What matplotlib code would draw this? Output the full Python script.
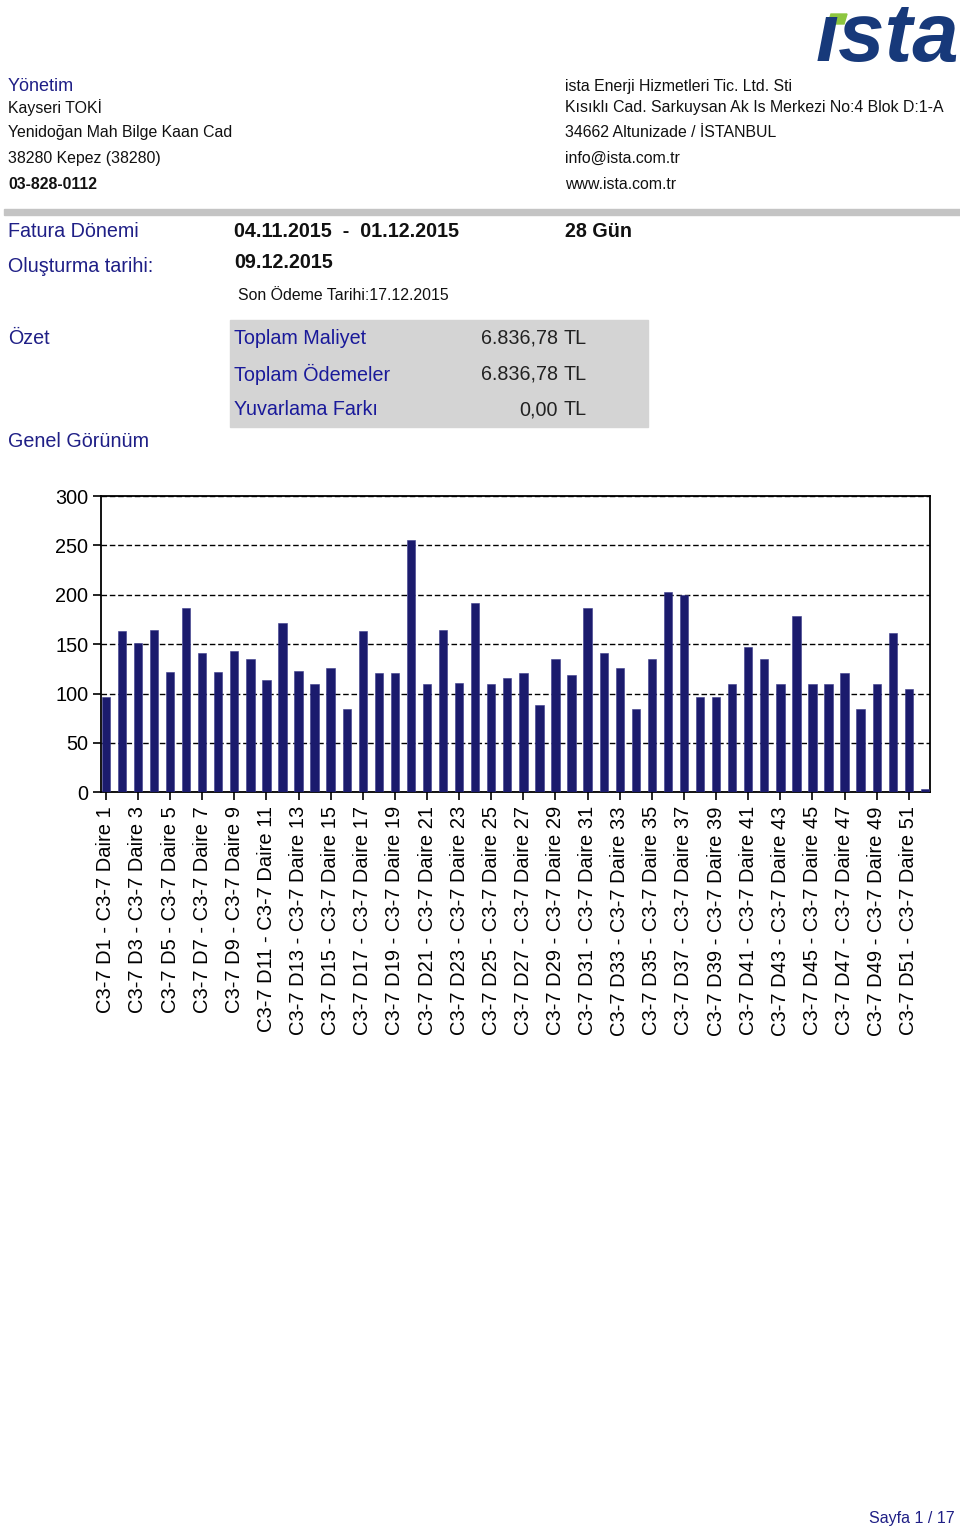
import matplotlib
matplotlib.use("Agg")
import matplotlib.pyplot as plt
from matplotlib.patches import Rectangle, Polygon

plt.rcParams['font.family'] = ['Liberation Sans', 'DejaVu Sans']

# ---- data ----
apartments = [f"C3-7 D{i} - C3-7 Daire {i}" for i in range(1, 53)]
values = [96, 163, 151, 164, 122, 187, 141, 122, 143, 135,
          114, 171, 123, 110, 126, 84, 163, 121, 121, 255,
          110, 164, 111, 192, 110, 116, 121, 88, 135, 119,
          187, 141, 126, 84, 135, 203, 200, 96, 96, 110,
          147, 135, 110, 178, 110, 110, 121, 84, 110, 161,
          105, 3]
y_ticks = [0, 50, 100, 150, 200, 250, 300]

W, H = 960, 1532
NAVY = '#1f1f86'
BAR = '#1b1b6d'

fig = plt.figure(figsize=(W / 100, H / 100), dpi=100)


def fx(x):
    return x / W


def fy(y):
    return 1 - y / H


def txt(x, y, s, size=11.4, color='#111111', ha='left', weight='normal', **kw):
    fig.text(fx(x), fy(y + 1.5), s, fontsize=size, color=color, ha=ha, va='center',
             fontweight=weight, **kw)


# ---- logo ----
fig.text(fx(816), fy(61), 'ısta', fontsize=60, fontweight='bold', fontstyle='italic',
         color='#17397a', ha='left', va='baseline')
fig.patches.append(Polygon([(fx(828), fy(24)), (fx(844), fy(24)), (fx(847), fy(14)), (fx(831), fy(14))],
                           closed=True, transform=fig.transFigure, color='#8dc63f'))

# ---- header ----
txt(8, 85, 'Yönetim', size=13, color=NAVY)
txt(8, 106, 'Kayseri TOKİ')
txt(8, 131, 'Yenidoğan Mah Bilge Kaan Cad')
txt(8, 157, '38280 Kepez (38280)')
txt(8, 183, '03-828-0112', weight='bold')
txt(565, 85, 'ista Enerji Hizmetleri Tic. Ltd. Sti')
txt(565, 106, 'Kısıklı Cad. Sarkuysan Ak Is Merkezi No:4 Blok D:1-A')
txt(565, 131, '34662 Altunizade / İSTANBUL')
txt(565, 157, 'info@ista.com.tr')
txt(565, 183, 'www.ista.com.tr')

fig.patches.append(Rectangle((fx(4), fy(215)), fx(956), 6 / H, transform=fig.transFigure,
                             color='#c4c4c4'))

txt(8, 230, 'Fatura Dönemi', size=14.2, color=NAVY)
txt(234, 230, '04.11.2015  -  01.12.2015', size=14.2, weight='bold')
txt(565, 230, '28 Gün', size=14.2, weight='bold')
txt(8, 265, 'Oluşturma tarihi:', size=14.2, color=NAVY)
txt(234, 261, '09.12.2015', size=14.2, weight='bold')
txt(238, 294, 'Son Ödeme Tarihi:17.12.2015')

txt(8, 337, 'Özet', size=14.2, color=NAVY)
fig.patches.append(Rectangle((fx(230), fy(427)), 418 / W, 107 / H, transform=fig.transFigure,
                             color='#d4d4d4'))
summary_labels = ['Toplam Maliyet', 'Toplam Ödemeler', 'Yuvarlama Farkı']
summary_values = ['6.836,78', '6.836,78', '0,00']
for i, (lab, val) in enumerate(zip(summary_labels, summary_values)):
    yy = 337 + i * 35.5
    txt(234, yy, lab, size=14.2, color='#1a1a9a')
    txt(558, yy, val, size=14.2, ha='right', color='#222222')
    txt(564, yy, 'TL', size=14.2, color='#222222')

txt(8, 440, 'Genel Görünüm', size=14.2, color=NAVY)
txt(955, 1517, 'Sayfa 1 / 17', size=11.5, color=NAVY, ha='right')

# ---- chart ----
left, right, top, bottom = 100.7, 930, 496, 792.3
ax = fig.add_axes([fx(left), fy(bottom), (right - left) / W, (bottom - top) / H])
x = list(range(len(values)))
ax.bar(x, values, width=0.52, color=BAR, edgecolor='#3a3a8a', linewidth=0.4, zorder=3)
ax.set_xlim(-0.32, len(values) - 1 + 0.32)
ax.set_ylim(0, 300)
ax.set_yticks(y_ticks)
ax.set_yticklabels([str(v) for v in y_ticks], fontsize=14.3)
ax.set_xticks(x[::2])
ax.set_xticklabels(apartments[::2], rotation=90, fontsize=14.5, va='top', ha='center')
ax.tick_params(axis='both', direction='out', length=6, width=1.2, color='black')
ax.tick_params(axis='x', pad=4)
ax.tick_params(axis='y', pad=3)
for sp in ax.spines.values():
    sp.set_linewidth(1.3)
    sp.set_color('black')
ax.yaxis.grid(True, linestyle=(0, (4, 2)), color='black', linewidth=1.0, zorder=0)
ax.set_axisbelow(True)

fig.savefig('out.png', dpi=100)
